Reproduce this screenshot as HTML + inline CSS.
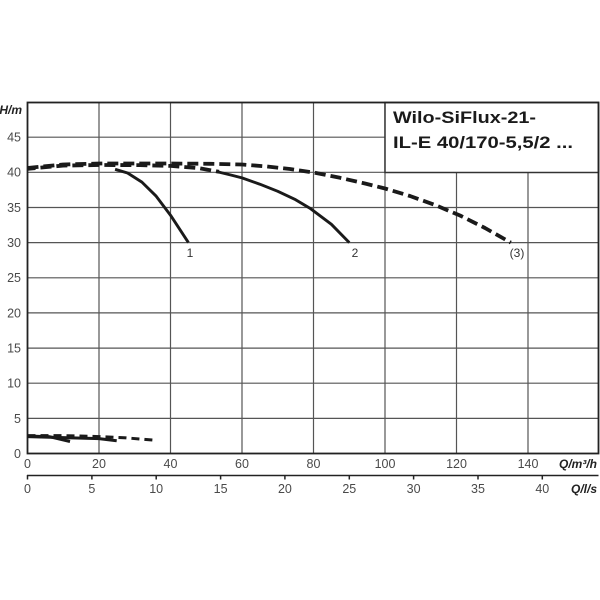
<!DOCTYPE html>
<html><head><meta charset="utf-8"><style>
html,body{margin:0;padding:0;background:#fff;}
svg{display:block;font-family:"Liberation Sans",sans-serif;}
</style></head><body>
<svg width="600" height="600" viewBox="0 0 600 600" xmlns="http://www.w3.org/2000/svg">
<rect width="600" height="600" fill="#fff"/>
<!-- grid -->
<g stroke="#555" stroke-width="1.2">
<line x1="99" y1="102.5" x2="99" y2="453.5"/>
<line x1="170.5" y1="102.5" x2="170.5" y2="453.5"/>
<line x1="242" y1="102.5" x2="242" y2="453.5"/>
<line x1="313.5" y1="102.5" x2="313.5" y2="453.5"/>
<line x1="385" y1="102.5" x2="385" y2="453.5"/>
<line x1="456.5" y1="102.5" x2="456.5" y2="453.5"/>
<line x1="528" y1="102.5" x2="528" y2="453.5"/>
<line x1="27.5" y1="418.4" x2="598.5" y2="418.4"/>
<line x1="27.5" y1="383.2" x2="598.5" y2="383.2"/>
<line x1="27.5" y1="348.1" x2="598.5" y2="348.1"/>
<line x1="27.5" y1="312.9" x2="598.5" y2="312.9"/>
<line x1="27.5" y1="277.8" x2="598.5" y2="277.8"/>
<line x1="27.5" y1="242.6" x2="598.5" y2="242.6"/>
<line x1="27.5" y1="207.5" x2="598.5" y2="207.5"/>
<line x1="27.5" y1="172.3" x2="598.5" y2="172.3"/>
<line x1="27.5" y1="137.2" x2="598.5" y2="137.2"/>
</g>
<!-- title box -->
<rect x="385" y="102.5" width="213.5" height="70" fill="#fff" stroke="#333" stroke-width="1.5"/>
<text x="393" y="123" font-size="17" font-weight="bold" fill="#1a1a1a" textLength="143" lengthAdjust="spacingAndGlyphs">Wilo-SiFlux-21-</text>
<text x="393" y="148" font-size="17" font-weight="bold" fill="#1a1a1a" textLength="180" lengthAdjust="spacingAndGlyphs">IL-E 40/170-5,5/2 ...</text>
<!-- border -->
<rect x="27.5" y="102.5" width="571" height="351" fill="none" stroke="#222" stroke-width="1.8"/>
<!-- curves -->
<g fill="none" stroke="#1a1a1a" stroke-linejoin="round">
<polyline stroke-width="3.8" stroke-dasharray="11,5" points="27.5,168 63,164.5 99,163.5 170.5,163.5 210,163.8 242,164.5 265,166.3 290,169 313.5,172.5 340,177.8 365,183.5 385,188.5 410,196 435,205 460,215.5 485,228 510.8,242.6"/>
<polyline stroke-width="3.8" stroke-dasharray="11,5" stroke-dashoffset="3" points="27.5,168.8 63,165.6 99,165 140,165.1 170.5,165.9 200,168.3 219,171.8"/>
<polyline stroke-width="2.9" points="115.1,169.3 127.6,173 141.9,182.1 156.2,196.2 170.5,215.2 188.4,242.6"/>
<polyline stroke-width="2.9" points="218.4,172 231.3,175.1 242,177.9 259.9,184.2 277.8,191.3 295.6,199.7 309.9,208.2 331.4,224.3 349.3,242.6"/>
<polyline stroke-width="3" stroke-dasharray="8,5" points="27.5,435.6 63.3,435.6 99,436.6 124,437.7 153.3,440.1"/>
<polyline stroke-width="3" points="27.5,436 50,436.8 70,441.5"/>
<polyline stroke-width="3" points="27.5,436.6 99,438.6 116.7,440.8"/>
</g>
<!-- curve labels -->
<g font-size="12" fill="#333" text-anchor="middle">
<text x="190" y="257">1</text>
<text x="355" y="257">2</text>
<text x="517" y="257">(3)</text>
</g>
<!-- y labels -->
<g font-size="12.5" fill="#4a4a4a" text-anchor="end">
<text x="21" y="458">0</text>
<text x="21" y="422.8">5</text>
<text x="21" y="387.6">10</text>
<text x="21" y="352.5">15</text>
<text x="21" y="317.3">20</text>
<text x="21" y="282.2">25</text>
<text x="21" y="247">30</text>
<text x="21" y="211.9">35</text>
<text x="21" y="176.7">40</text>
<text x="21" y="141.6">45</text>
</g>
<text x="22" y="114" font-size="12" font-weight="bold" font-style="italic" fill="#222" text-anchor="end">H/m</text>
<!-- x labels m3/h -->
<g font-size="12.5" fill="#4a4a4a" text-anchor="middle">
<text x="27.5" y="468">0</text>
<text x="99" y="468">20</text>
<text x="170.5" y="468">40</text>
<text x="242" y="468">60</text>
<text x="313.5" y="468">80</text>
<text x="385" y="468">100</text>
<text x="456.5" y="468">120</text>
<text x="528" y="468">140</text>
</g>
<text x="597" y="468" font-size="12" font-weight="bold" font-style="italic" fill="#222" text-anchor="end">Q/m³/h</text>
<!-- second axis -->
<line x1="27" y1="475.5" x2="598.5" y2="475.5" stroke="#222" stroke-width="1.6"/>
<g stroke="#222" stroke-width="1.5">
<line x1="27.5" y1="475" x2="27.5" y2="479.5"/>
<line x1="91.9" y1="475" x2="91.9" y2="479.5"/>
<line x1="156.2" y1="475" x2="156.2" y2="479.5"/>
<line x1="220.6" y1="475" x2="220.6" y2="479.5"/>
<line x1="284.9" y1="475" x2="284.9" y2="479.5"/>
<line x1="349.3" y1="475" x2="349.3" y2="479.5"/>
<line x1="413.6" y1="475" x2="413.6" y2="479.5"/>
<line x1="478" y1="475" x2="478" y2="479.5"/>
<line x1="542.3" y1="475" x2="542.3" y2="479.5"/>
</g>
<g font-size="12.5" fill="#4a4a4a" text-anchor="middle">
<text x="27.5" y="493">0</text>
<text x="91.9" y="493">5</text>
<text x="156.2" y="493">10</text>
<text x="220.6" y="493">15</text>
<text x="284.9" y="493">20</text>
<text x="349.3" y="493">25</text>
<text x="413.6" y="493">30</text>
<text x="478" y="493">35</text>
<text x="542.3" y="493">40</text>
</g>
<text x="597" y="493" font-size="12" font-weight="bold" font-style="italic" fill="#222" text-anchor="end">Q/l/s</text>
</svg>
</body></html>
